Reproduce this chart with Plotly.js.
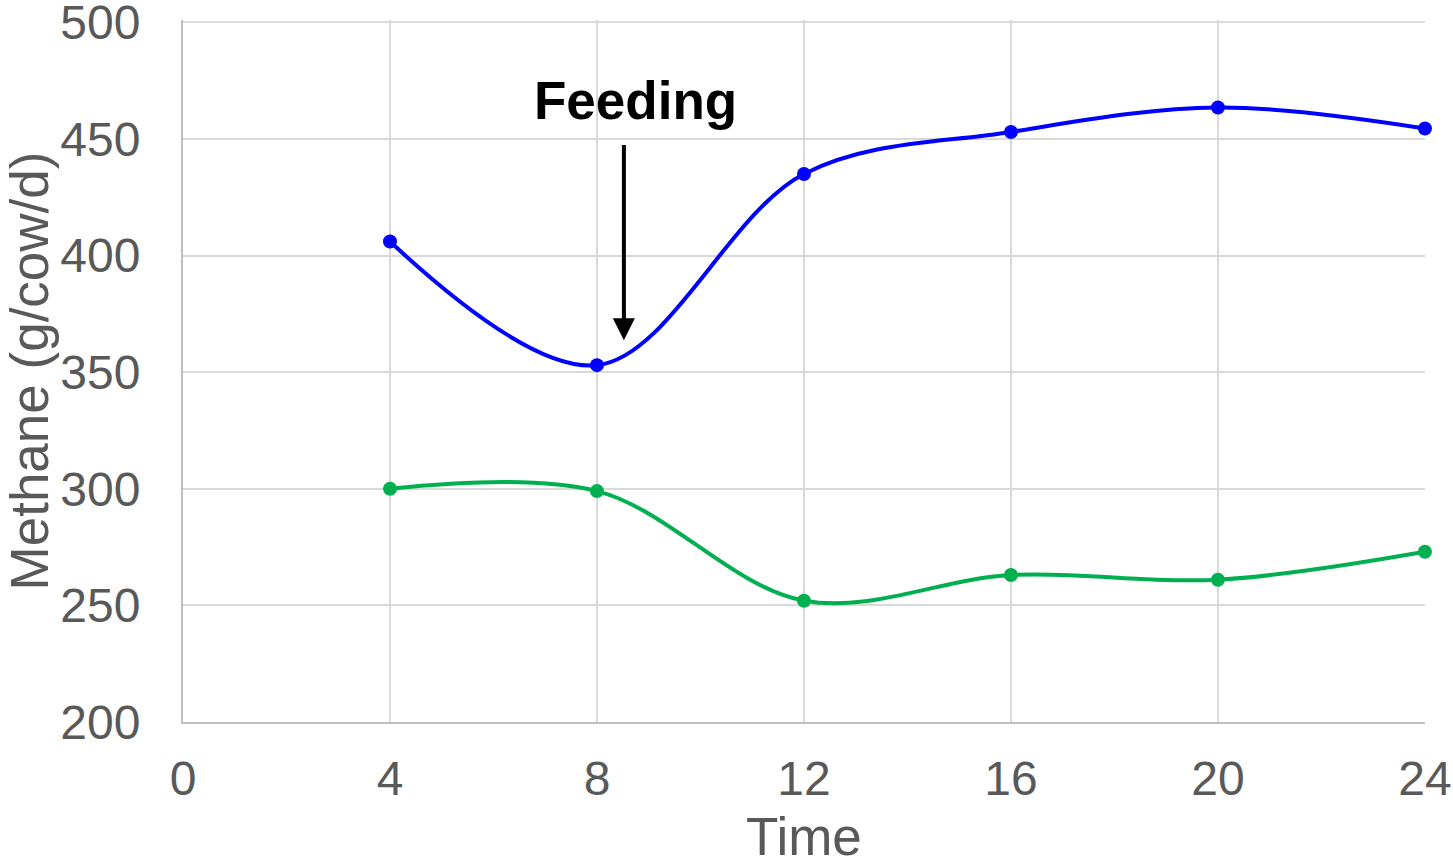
<!DOCTYPE html>
<html>
<head>
<meta charset="utf-8">
<script src="https://cdn.plot.ly/plotly-3.0.1.min.js"></script>
<style>html,body{margin:0;padding:0;background:#fff;}#chart{width:1453px;height:865px;}</style>
</head>
<body>
<div id="chart"></div>
<script>
const timePoints = [4, 8, 12, 16, 20, 24];
const methaneBlue = [406, 353, 435, 453, 463.5, 454.5];
const methaneGreen = [300, 299, 252, 263, 261, 273];
const xTickVals = [0, 4, 8, 12, 16, 20, 24];
const yTickVals = [200, 250, 300, 350, 400, 450, 500];

const fontFam = 'Liberation Sans, Arial, sans-serif';
const traces = [
  {x: timePoints, y: methaneBlue, mode: 'lines+markers', line: {color: '#0000ff', width: 4, shape: 'spline', smoothing: 1}, marker: {color: '#0000ff', size: 14}, showlegend: false, cliponaxis: false},
  {x: timePoints, y: methaneGreen, mode: 'lines+markers', line: {color: '#00b050', width: 4, shape: 'spline', smoothing: 1}, marker: {color: '#00b050', size: 14}, showlegend: false, cliponaxis: false}
];
const layout = {
  width: 1453, height: 865,
  margin: {l: 183, r: 28, t: 20, b: 143},
  paper_bgcolor: '#fff', plot_bgcolor: '#fff',
  font: {family: fontFam, color: '#595959'},
  xaxis: {
    range: [0, 24.001], tickvals: xTickVals, ticktext: xTickVals.map(String),
    showgrid: true, gridcolor: '#d9d9d9', gridwidth: 2,
    zeroline: false, showline: true, linecolor: '#bfbfbf', linewidth: 2,
    ticks: '', ticklabelstandoff: 13,
    tickfont: {size: 48, color: '#595959', family: fontFam}
  },
  yaxis: {
    range: [200, 501], tickvals: yTickVals, ticktext: yTickVals.map(String),
    showgrid: true, gridcolor: '#d9d9d9', gridwidth: 2,
    zeroline: false, showline: true, linecolor: '#bfbfbf', linewidth: 2,
    ticks: '', ticklabelstandoff: 31, ticklabeloverflow: 'allow',
    tickfont: {size: 48, color: '#595959', family: fontFam},
    title: {text: 'Methane (g/cow/d)', font: {size: 53, color: '#595959', family: fontFam}, standoff: 16}
  },
  annotations: [
    {x: 8.52, y: 363.7, ax: 8.52, ay: 448, xref: 'x', yref: 'y', axref: 'x', ayref: 'y',
     showarrow: true, arrowhead: 2, arrowsize: 1.1, arrowwidth: 4, arrowcolor: '#000', text: ''},
    {x: 8.75, y: 466.6, xref: 'x', yref: 'y', showarrow: false, text: '<b>Feeding</b>',
     font: {size: 53, color: '#000', family: fontFam}},
    {x: 0.5, y: -0.1624, xref: 'paper', yref: 'paper', xanchor: 'center', yanchor: 'middle', showarrow: false,
     text: 'Time', font: {size: 53, color: '#595959', family: fontFam}}
  ]
};
Plotly.newPlot('chart', traces, layout, {displayModeBar: false, staticPlot: true});
</script>
</body>
</html>
